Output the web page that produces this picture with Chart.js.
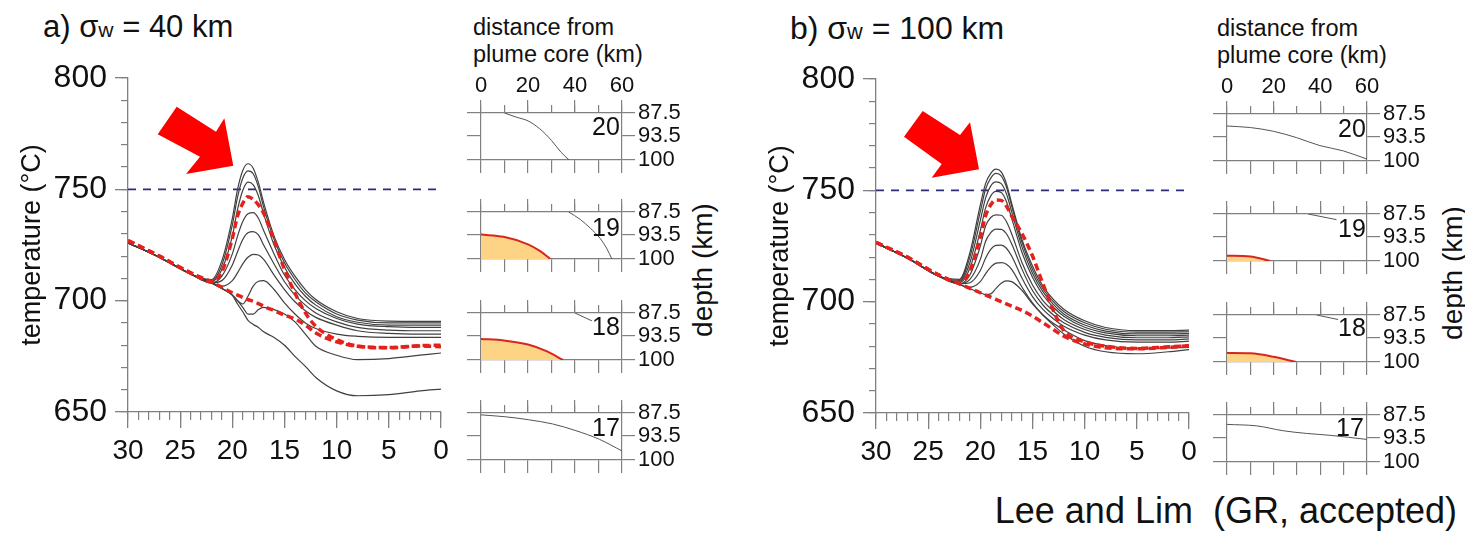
<!DOCTYPE html>
<html>
<head>
<meta charset="utf-8">
<script src="https://cdn.jsdelivr.net/npm/chart.js@4.4.1/dist/chart.umd.min.js"></script>
<style>
  body { margin: 0; background: #fff; }
  #page { position: relative; width: 1465px; height: 533px; overflow: hidden; font-family: "Liberation Sans", Arial, sans-serif; color: #111; }
  canvas { position: absolute; }
  .txt { position: absolute; line-height: 1; white-space: nowrap; }
  .sub { font-size: 0.68em; }
  .num { position: absolute; font-size: 25px; line-height: 1; transform: translate(-50%, -50%); }
  .rot { position: absolute; font-size: 28px; line-height: 1; white-space: nowrap; transform: translate(-50%, -50%) rotate(-90deg); }
  .arrow { position: absolute; background: #ff0000; }
</style>
</head>
<body>
<div id="page">
  <div class="txt" style="left:43px;top:11px;font-size:31px">a) σ<span class="sub">w</span> = 40 km</div>
  <div class="txt" style="left:790px;top:12px;font-size:32px">b) σ<span class="sub">w</span> = 100 km</div>

  <div class="txt" style="left:473px;top:14px;font-size:23.5px;line-height:27px">distance from<br>plume core (km)</div>
  <div class="txt" style="left:1217px;top:15px;font-size:23.5px;line-height:27px">distance from<br>plume core (km)</div>

  <div class="rot" style="left:703px;top:270px">depth (km)</div>
  <div class="rot" style="left:1453px;top:273px">depth (km)</div>

  <div class="arrow" style="left:150px;top:100px;width:90px;height:80px;clip-path:polygon(7.7px 34.3px, 26.7px 6.7px, 66px 31.7px, 74.3px 18.3px, 83.3px 65.7px, 36px 74px, 50px 56.7px)"></div>
  <div class="arrow" style="left:896px;top:104px;width:90px;height:80px;clip-path:polygon(8px 32.7px, 26.7px 7px, 64px 31px, 74px 18.3px, 83px 65.3px, 35.7px 73.7px, 45.7px 60px)"></div>

  <canvas id="mainA" width="460" height="480" style="left:0;top:0"></canvas>
  <canvas id="mainB" width="460" height="480" style="left:748px;top:1px"></canvas>

  <canvas id="dA20" width="245" height="105" style="left:441px;top:73px"></canvas>
  <canvas id="dA19" width="245" height="105" style="left:441px;top:172px"></canvas>
  <canvas id="dA18" width="245" height="105" style="left:441px;top:273px"></canvas>
  <canvas id="dA17" width="245" height="105" style="left:441px;top:373px"></canvas>
  <canvas id="dB20" width="244" height="105" style="left:1187px;top:74px"></canvas>
  <canvas id="dB19" width="244" height="105" style="left:1187px;top:174px"></canvas>
  <canvas id="dB18" width="244" height="105" style="left:1187px;top:275px"></canvas>
  <canvas id="dB17" width="244" height="105" style="left:1187px;top:375px"></canvas>

  <div class="num" style="left:606px;top:126px">20</div>
  <div class="num" style="left:606px;top:227px">19</div>
  <div class="num" style="left:606px;top:326px">18</div>
  <div class="num" style="left:606px;top:427px">17</div>
  <div class="num" style="left:1352px;top:128px">20</div>
  <div class="num" style="left:1352px;top:228px">19</div>
  <div class="num" style="left:1352px;top:327px">18</div>
  <div class="num" style="left:1350px;top:427px">17</div>

  <div class="txt" style="right:8px;top:493px;font-size:36px">Lee and Lim &nbsp;(GR, accepted)</div>
</div>

<script>
// time axis (reversed, 30 on the left)
const timeSteps = [30, 27, 24, 22, 21, 20, 19.5, 19, 18.5, 18, 17.5, 17, 16, 15, 14, 13, 12, 10, 8, 5, 2, 0];
const solidusTemp = 750;

// a) sigma_w = 40 km, black curves top to bottom
const a1 = [726, 719.5, 712, 709.5, 718, 737, 750, 758.5, 761.5, 759.5, 753, 744, 729, 718.5, 711, 705, 700.5, 695, 692, 690.8, 690.7, 690.7];
const a2 = [726, 719.5, 712, 709, 716, 734, 746.5, 755, 758.3, 757, 751, 742, 727.5, 717, 709.5, 703.5, 699.5, 694, 691.3, 690, 690, 690];
const a3 = [726, 719.5, 712, 708.5, 714, 729, 741, 749.5, 753.2, 752, 747, 739, 725, 715, 707.5, 702, 698, 692.8, 690.3, 689, 689, 689];
const a4 = [726, 719.5, 712, 708, 711, 721, 729, 735.5, 739, 739.5, 737, 731.5, 721, 711.5, 705, 700, 696.5, 692, 689.5, 688.3, 688, 688];
const a5 = [726, 719.5, 712, 708, 709, 716, 722, 727.5, 730.5, 731, 729.5, 725, 716.5, 708.5, 702.5, 698, 694.5, 690.5, 688, 686.8, 686.5, 686.5];
const a6 = [726, 719.5, 712, 708, 706.5, 709, 712.5, 716.5, 719.5, 720.8, 720.5, 718.5, 711.5, 705, 699.5, 695.5, 692.5, 689, 686.5, 685.3, 685, 685];
const a7 = [726, 719.5, 712, 708, 705.5, 702.5, 700, 698.5, 702, 706.5, 708.7, 709, 705, 699, 694, 690, 687.5, 685, 684, 683.5, 683.5, 683.5];
const a8 = [726, 719.5, 712, 708, 705.5, 702.5, 700, 697, 694, 694, 696, 697, 696, 694, 690.5, 685, 679.5, 675.5, 673.5, 674, 675.5, 676.5];
const a9 = [726, 719.5, 712, 708, 705.5, 702.5, 698.5, 695, 691.2, 689.3, 688, 686, 683.5, 680, 675, 670.5, 665.5, 659.5, 657.3, 657.8, 659.5, 660.3];
// a) red dashed
const aRed1 = [727, 720, 712.5, 708.5, 713, 728, 738, 743.7, 746.7, 745.5, 743, 739.3, 727.3, 714, 703.4, 694.5, 688.5, 682.5, 679.6, 678.8, 679.6, 679.3];
const aRed2 = [727, 720, 712.5, 708.5, 706, 703.5, 702.5, 701.5, 700.5, 699.7, 698.7, 697.5, 695.5, 693.5, 691.8, 689, 685.5, 681.5, 679.5, 679, 679.8, 680];

// b) sigma_w = 100 km
const b1 = [726.3, 719.6, 711.5, 710, 722, 743.5, 753, 757.6, 759.5, 758.3, 753, 744.2, 727.8, 716, 707, 701, 696.6, 691.4, 688.4, 687, 687, 687.2];
const b2 = [726.3, 719.6, 711.5, 709.5, 720, 740.5, 750.5, 755.5, 757.6, 756.5, 751.5, 743, 726.5, 714.5, 705.8, 700, 695.6, 690.5, 687.6, 686.3, 686.3, 686.5];
const b3 = [726.3, 719.6, 711.5, 709, 717.5, 736.5, 746.5, 752, 753.8, 753, 748.5, 740.5, 724.5, 712.8, 704.5, 698.8, 694.5, 689.5, 686.8, 685.5, 685.5, 685.8];
const b4 = [726.3, 719.6, 711.5, 708.5, 715, 732, 742, 747.5, 749.5, 749, 745, 737.5, 722, 711, 703, 697.5, 693.5, 688.5, 686, 684.7, 684.7, 685];
const b5 = [726.3, 719.6, 711.5, 708, 712, 725, 734, 737.8, 739, 738.8, 736, 730.5, 717.5, 707.5, 700.5, 695.8, 692, 687.5, 685, 683.8, 683.8, 684.2];
const b6 = [726.3, 719.6, 711.5, 708, 710, 719, 727, 731, 732.6, 732.5, 730.5, 726, 714.5, 705, 698.5, 694, 690.5, 686.2, 684, 682.8, 682.8, 683.3];
const b7 = [726.3, 719.6, 711.5, 708, 708.5, 714, 719.5, 723.5, 725.3, 725.4, 724, 720.5, 710.5, 702.3, 696.5, 692.3, 689, 685, 682.8, 681.8, 681.8, 682.3];
const b8 = [726.3, 719.6, 711.5, 707.7, 706.5, 709, 712.5, 715.5, 717.3, 717.5, 716.8, 714.5, 706.5, 699.5, 694, 690.3, 687.3, 682.5, 680.3, 679, 679.2, 679.5];
const b9 = [726.3, 719.6, 711.5, 707.7, 705.8, 704, 703.2, 703.5, 706, 708.3, 709.3, 709, 705, 699, 694, 689.5, 685.5, 680, 677.5, 676.6, 677.5, 678.5];
const bRed1 = [726.6, 720, 712, 708.5, 714, 729, 738.5, 743.5, 745.7, 745.5, 743, 738.5, 730.5, 720.5, 708, 696, 687, 682, 680, 679, 679.7, 680.2];
const bRed2 = [726.6, 720, 712, 708, 706, 704, 703, 702, 701, 700, 699, 698, 696, 693.5, 690.5, 687.5, 684.5, 681, 679.3, 678.8, 679.5, 680.2];

// depth profiles (distance from plume core km -> depth km)
const depthTickVals = [87.5, 93.5, 100];
const a20Dist = [10, 15, 20, 25, 30, 34, 37.5];
const a20Depth = [87.5, 88.6, 89.6, 91.7, 94.8, 97.9, 100];
const a19Dist = [37.3, 42.3, 46.5, 50.8, 53.6, 55.7];
const a19Depth = [87.5, 89.5, 91.8, 94.6, 97.3, 100];
const a19MeltDist = [0, 9.6, 20, 25.2, 29.5];
const a19MeltDepth = [93.5, 94.1, 96.1, 97.9, 100];
const a18Dist = [40, 47.2];
const a18Depth = [87.5, 89.6];
const a18MeltDist = [0, 9.6, 20, 28.1, 34.9];
const a18MeltDepth = [94.4, 94.8, 95.9, 97.7, 100];
const a17Dist = [0, 10.3, 20.3, 30.4, 40.4, 50.4, 60];
const a17Depth = [88.0, 88.5, 89.3, 90.4, 92.2, 94.5, 97.6];

const b20Dist = [0, 10, 19.9, 29.9, 39.8, 49.8, 60];
const b20Depth = [90.7, 91.1, 92.1, 93.8, 95.9, 97.3, 99.5];
const b19Dist = [34.8, 46.9];
const b19Depth = [87.5, 89.0];
const b19MeltDist = [0, 10, 18.5];
const b19MeltDepth = [98.6, 98.8, 100];
const b18Dist = [38.4, 47.6];
const b18Depth = [87.5, 88.7];
const b18MeltDist = [0, 10, 19.9, 29.6];
const b18MeltDepth = [97.6, 97.7, 98.6, 100];
const b17Dist = [0, 12.8, 24.2, 34.1, 44.1, 60];
const b17Depth = [90.0, 90.4, 91.7, 92.4, 92.9, 94.0];

const axisGray = '#808080';
const labelFont = 'Liberation Sans';

function pts(xs, ys) {
  return xs.map((x, i) => ({ x: x, y: ys[i] }));
}

function mainChart(id, blacks, reds) {
  const datasets = [];
  reds.forEach(vals => datasets.push({
    data: pts(timeSteps, vals), borderColor: '#e3221d', borderWidth: 3.5, borderDash: [7, 4],
    pointRadius: 0, cubicInterpolationMode: 'monotone'
  }));
  blacks.forEach(vals => datasets.push({
    data: pts(timeSteps, vals), borderColor: '#404040', borderWidth: 1.2,
    pointRadius: 0, cubicInterpolationMode: 'monotone'
  }));
  // solidus line
  datasets.push({
    data: [{ x: 30, y: solidusTemp }, { x: 0, y: solidusTemp }],
    borderColor: '#2c2c7c', borderWidth: 1.6, borderDash: [8, 7], pointRadius: 0
  });

  new Chart(document.getElementById(id), {
    type: 'line',
    data: { datasets: datasets },
    options: {
      responsive: false,
      animation: false,
      layout: { padding: { left: 0, right: 19, top: 78, bottom: 0 } },
      plugins: { legend: { display: false }, tooltip: { enabled: false } },
      scales: {
        x: {
          type: 'linear', position: 'bottom', weight: 1, reverse: true, min: 0, max: 30,
          ticks: { stepSize: 5, autoSkip: false, maxRotation: 0, padding: 6, color: '#111', font: { family: labelFont, size: 28 } },
          grid: { drawOnChartArea: false, tickLength: 16, color: axisGray, lineWidth: 1.3 },
          border: { color: axisGray, width: 1.3 },
          afterFit: s => { s.height = 68; }
        },
        xMinor: {
          axis: 'x', type: 'linear', position: 'bottom', weight: 0, reverse: true, min: 0, max: 30,
          ticks: { display: false, stepSize: 1, autoSkip: false },
          grid: { drawOnChartArea: false, tickLength: 8, color: axisGray, lineWidth: 1.2 },
          border: { display: false },
          afterFit: s => { s.height = 0; }
        },
        y: {
          type: 'linear', position: 'left', weight: 1, min: 650, max: 800,
          ticks: { stepSize: 50, padding: 8, color: '#111', font: { family: labelFont, size: 32 } },
          grid: { drawOnChartArea: false, tickLength: 13, color: axisGray, lineWidth: 1.3 },
          border: { color: axisGray, width: 1.3 },
          title: { display: true, text: 'temperature (°C)', color: '#111', font: { family: labelFont, size: 27 }, padding: { top: 16, bottom: 0 } },
          afterFit: s => { s.width = 128; }
        },
        yMinor: {
          axis: 'y', type: 'linear', position: 'left', weight: 0, min: 650, max: 800,
          ticks: { display: false, stepSize: 10 },
          grid: { drawOnChartArea: false, tickLength: 7, color: axisGray, lineWidth: 1.2 },
          border: { display: false },
          afterFit: s => { s.width = 0; }
        }
      }
    }
  });
}

function setDepthTicks(scale) {
  scale.ticks = depthTickVals.map(v => ({ value: v }));
}

function depthPanel(id, showTop, lineDist, lineDepth, meltDist, meltDepth) {
  const datasets = [];
  if (meltDist) {
    datasets.push({
      data: pts(meltDist, meltDepth), borderColor: '#d8261f', borderWidth: 2,
      backgroundColor: '#fdd485', fill: { value: 100 }, pointRadius: 0, cubicInterpolationMode: 'monotone'
    });
  }
  datasets.push({
    data: pts(lineDist, lineDepth), borderColor: '#555', borderWidth: 1,
    pointRadius: 0, cubicInterpolationMode: 'monotone'
  });

  const frame = { color: axisGray, width: 1.2 };
  new Chart(document.getElementById(id), {
    type: 'line',
    data: { datasets: datasets },
    options: {
      responsive: false,
      animation: false,
      layout: { padding: 0 },
      plugins: { legend: { display: false }, tooltip: { enabled: false } },
      scales: {
        x: {
          type: 'linear', position: 'top', weight: 1, min: 0, max: 60,
          ticks: { display: showTop, stepSize: 20, autoSkip: false, maxRotation: 0, padding: 1, color: '#111', font: { family: labelFont, size: 22 } },
          grid: { drawOnChartArea: false, tickLength: 13, color: axisGray, lineWidth: 1.2 },
          border: frame,
          afterFit: s => { s.height = 40; }
        },
        xTopMinor: {
          axis: 'x', type: 'linear', position: 'top', weight: 0, min: 0, max: 60,
          ticks: { display: false, stepSize: 10 },
          grid: { drawOnChartArea: false, tickLength: 8, color: axisGray, lineWidth: 1.2 },
          border: { display: false },
          afterFit: s => { s.height = 0; }
        },
        xBottom: {
          axis: 'x', type: 'linear', position: 'bottom', min: 0, max: 60,
          ticks: { display: false, stepSize: 10 },
          grid: { drawOnChartArea: false, tickLength: 13, color: axisGray, lineWidth: 1.2 },
          border: frame,
          afterFit: s => { s.height = 18; }
        },
        y: {
          type: 'linear', position: 'left', reverse: true, min: 87.5, max: 100,
          afterBuildTicks: setDepthTicks,
          ticks: { display: false },
          grid: { drawOnChartArea: false, tickLength: 14, color: axisGray, lineWidth: 1.2 },
          border: frame,
          afterFit: s => { s.width = 40; }
        },
        yRight: {
          axis: 'y', type: 'linear', position: 'right', reverse: true, min: 87.5, max: 100,
          afterBuildTicks: setDepthTicks,
          ticks: { autoSkip: false, padding: 3, color: '#111', font: { family: labelFont, size: 22, lineHeight: 1 }, callback: v => String(v) },
          grid: { drawOnChartArea: false, tickLength: 13, color: axisGray, lineWidth: 1.2 },
          border: frame,
          afterFit: s => { s.width = 64; }
        }
      }
    }
  });
}

mainChart('mainA', [a1, a2, a3, a4, a5, a6, a7, a8, a9], [aRed1, aRed2]);
mainChart('mainB', [b1, b2, b3, b4, b5, b6, b7, b8, b9], [bRed1, bRed2]);

depthPanel('dA20', true, a20Dist, a20Depth);
depthPanel('dA19', false, a19Dist, a19Depth, a19MeltDist, a19MeltDepth);
depthPanel('dA18', false, a18Dist, a18Depth, a18MeltDist, a18MeltDepth);
depthPanel('dA17', false, a17Dist, a17Depth);
depthPanel('dB20', true, b20Dist, b20Depth);
depthPanel('dB19', false, b19Dist, b19Depth, b19MeltDist, b19MeltDepth);
depthPanel('dB18', false, b18Dist, b18Depth, b18MeltDist, b18MeltDepth);
depthPanel('dB17', false, b17Dist, b17Depth);
</script>
</body>
</html>
